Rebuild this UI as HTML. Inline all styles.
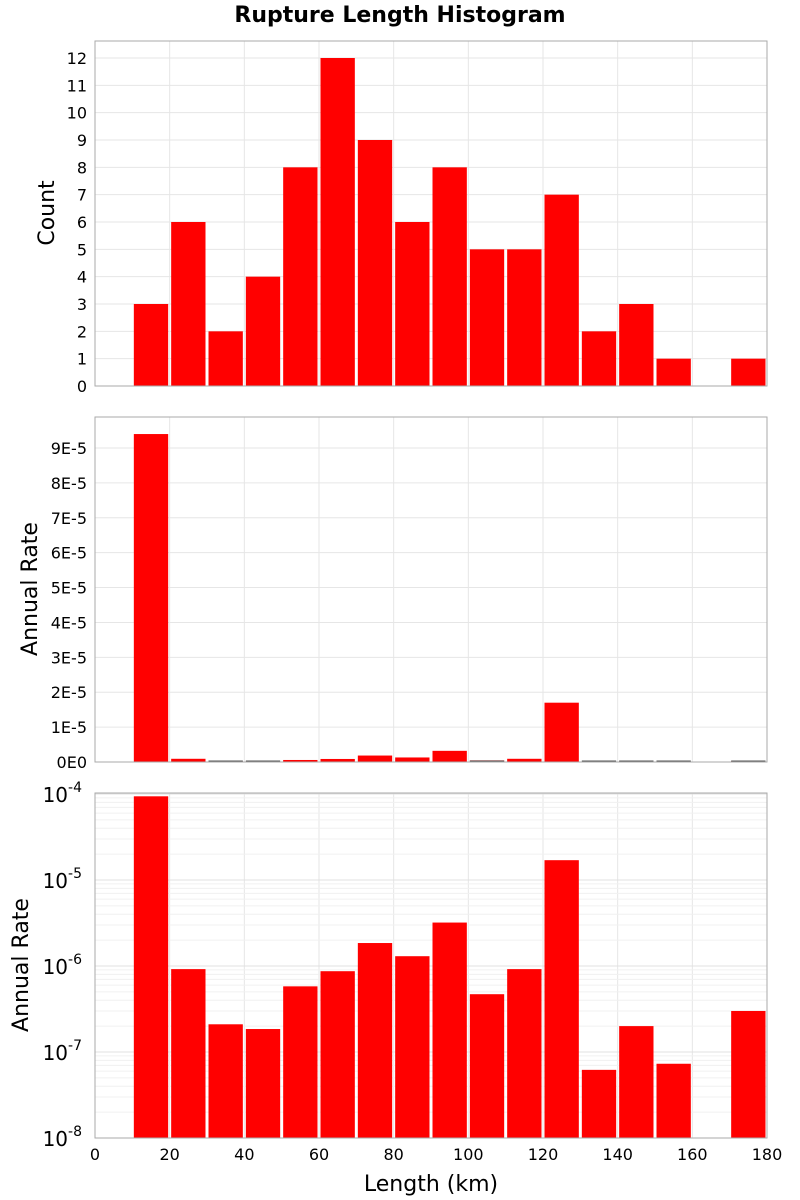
<!DOCTYPE html>
<html><head><meta charset="utf-8"><style>
body{margin:0;background:#fff;}
svg{display:block;font-family:"DejaVu Sans","Liberation Sans",sans-serif;}
</style></head><body>
<svg id="c" width="800" height="1200"></svg>
<script>
const binStarts=[10,20,30,40,50,60,70,80,90,100,110,120,130,140,150,160,170];
const counts=[3,6,2,4,8,12,9,6,8,5,5,7,2,3,1,0,1];
const rates=[9.4e-5,9.2e-7,2.1e-7,1.85e-7,5.8e-7,8.7e-7,1.85e-6,1.3e-6,3.2e-6,4.7e-7,9.2e-7,1.7e-5,6.2e-8,2.0e-7,7.3e-8,0,3.0e-7];
const xTicks=[0,20,40,60,80,100,120,140,160,180];
const countTicks=[0,1,2,3,4,5,6,7,8,9,10,11,12];
const rateTicks=[0,1e-5,2e-5,3e-5,4e-5,5e-5,6e-5,7e-5,8e-5,9e-5];
const rateLabels=["0E0","1E-5","2E-5","3E-5","4E-5","5E-5","6E-5","7E-5","8E-5","9E-5"];
const logExps=[-8,-7,-6,-5,-4];

const NS="http://www.w3.org/2000/svg";
const svg=document.getElementById('c');
function mk(t,a,p){const e=document.createElementNS(NS,t);for(const k in a)e.setAttribute(k,a[k]);(p||svg).appendChild(e);return e;}
const L=95,R=767;
const xs=v=>L+(v/180)*(R-L);
const panels=[{t:41,b:386},{t:417,b:762},{t:793,b:1138}];

const title=mk('text',{x:400,y:22,'text-anchor':'middle','font-size':22,'font-weight':'bold'});
title.textContent='Rupture Length Histogram';



function frame(p,name){
  const g=mk('g',{});
  
  
  xTicks.forEach(v=>mk('line',{x1:xs(v),x2:xs(v),y1:p.t,y2:p.b,stroke:'#e6e6e6'},g));
  return g;
}
function border(p,g){mk('rect',{x:L,y:p.t,width:R-L,height:p.b-p.t,fill:'none',stroke:'#aaa'},g);}
function bars(g,vals,ys,name,p){
  binStarts.forEach((s,i)=>{
    if(vals[i]<=0)return;
    const y=Math.max(p.t,ys(vals[i]));
    const r=mk('rect',{x:xs(s)+1.5,y:y,width:xs(s+10)-xs(s)-3,height:p.b-y,fill:'#ff0000'},g);
    
    
  });
}
function ytitle(txt,cy,x,name){
  const t=mk('text',{x:x,y:cy,'text-anchor':'middle','font-size':22,transform:`rotate(-90 ${x} ${cy})`});
  t.textContent=txt;
}

// Panel 1
{const p=panels[0];const g=frame(p,'count-panel');
 const ys=v=>386-v*(386-58)/12;
 countTicks.forEach(v=>{mk('line',{x1:L,x2:R,y1:ys(v),y2:ys(v),stroke:'#e6e6e6'},g);
  const t=mk('text',{x:87,y:ys(v)+6,'text-anchor':'end','font-size':16},g);t.textContent=v;
  });
 bars(g,counts,ys,'count',p);border(p,g);ytitle('Count',213,54,'count-axis-title');}

// Panel 2
{const p=panels[1];const g=frame(p,'rate-linear-panel');
 const ys=v=>762-v*(762-448)/9e-5;
 rateTicks.forEach((v,i)=>{mk('line',{x1:L,x2:R,y1:ys(v),y2:ys(v),stroke:'#e6e6e6'},g);
  const t=mk('text',{x:87,y:ys(v)+6,'text-anchor':'end','font-size':16},g);t.textContent=rateLabels[i];
  });
 bars(g,rates,ys,'rate',p);
 binStarts.forEach((s,i)=>{if(rates[i]>0&&762-ys(rates[i])<2)mk('line',{x1:xs(s)+1.5,x2:xs(s+10)-1.5,y1:761,y2:761,stroke:'#555'},g);});
 border(p,g);ytitle('Annual Rate',589,37,'rate-axis-title');}

// Panel 3
{const p=panels[2];const g=frame(p,'rate-log-panel');
 const ys=v=>1138-(Math.log10(v)+8)*86;
 for(let e=-8;e<-4;e++)for(let m=2;m<10;m++){const y=ys(m*Math.pow(10,e));mk('line',{x1:L,x2:R,y1:y,y2:y,stroke:'#f0f0f0'},g);}
 logExps.forEach(e=>{const y=ys(Math.pow(10,e));mk('line',{x1:L,x2:R,y1:y,y2:y,stroke:'#e0e0e0'},g);
  const t=mk('text',{x:82,y:y+8,'text-anchor':'end','font-size':20},g);
  
  t.appendChild(document.createTextNode('10'));
  const s=mk('tspan',{dy:-10,'font-size':14},t);s.textContent=e;});
 bars(g,rates,ys,'log-rate',p);border(p,g);ytitle('Annual Rate',965,28,'log-rate-axis-title');
 xTicks.forEach(v=>{const t=mk('text',{x:xs(v),y:1160,'text-anchor':'middle','font-size':16},g);t.textContent=v;
  });
 const xt=mk('text',{x:431,y:1191,'text-anchor':'middle','font-size':22},g);xt.textContent='Length (km)';
 }
</script>
</body></html>
